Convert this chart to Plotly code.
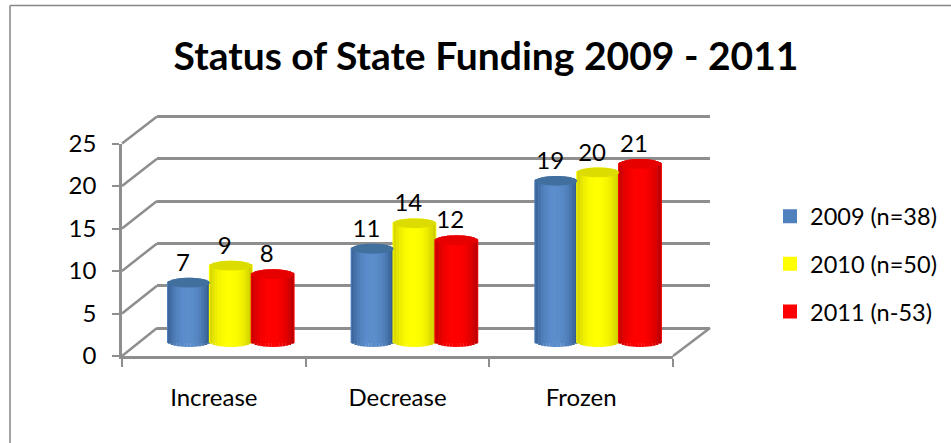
import math
import plotly.graph_objects as go

categories = ["Increase", "Decrease", "Frozen"]
series_names = ["2009 (n=38)", "2010 (n=50)", "2011 (n-53)"]
values_2009 = [7, 11, 19]
values_2010 = [9, 14, 20]
values_2011 = [8, 12, 21]
y_ticks = [0, 5, 10, 15, 20, 25]
title_text = "Status of State Funding 2009 - 2011"

W, H = 951, 443
FONT = "Lato, Carlito, Calibri, sans-serif"
GRID = "#8e8e8e"
series_values = [values_2009, values_2010, values_2011]
legend_colors = ["#4F81BD", "#FFFF00", "#FF0000"]
edge_colors = [(52, 92, 142), (205, 205, 0), (190, 0, 0)]
mid_colors = [(92, 142, 205), (255, 255, 0), (255, 0, 0)]
cap_colors = ["#41709f", "#dcdc00", "#e60000"]


def px(x):
    return x / W


def py(y):
    return 1 - y / H


def mix(a, b, t):
    return "rgb(%d,%d,%d)" % tuple(round(a[i] + (b[i] - a[i]) * t) for i in range(3))


BAR_W = 0.228
GROUP_LEFT = -0.345
E = 0.58  # half-height of an ellipse, y units
N = 15

fig = go.Figure()

# back wall
fig.add_trace(go.Scatter(x=[0], y=[None], xaxis="x", yaxis="y", showlegend=False, hoverinfo="skip"))
# front axes
fig.add_trace(go.Scatter(x=categories, y=[None] * 3, xaxis="x2", yaxis="y2", showlegend=False, hoverinfo="skip"))

shapes = []
for k, (name, vals) in enumerate(zip(series_names, series_values)):
    left = GROUP_LEFT + k * BAR_W
    fig.add_trace(go.Bar(
        x=[0, 1, 2], y=vals, name=name, width=BAR_W, offset=left,
        marker=dict(color=legend_colors[k], line=dict(color=legend_colors[k], width=2)),
        xaxis="x3", yaxis="y3", legendgroup=name, hoverinfo="skip",
    ))
    for i in range(N):
        a = i / N
        b = (i + 1) / N
        t = (a + b) - 1
        dome = math.sqrt(max(0.0, 1 - t * t))
        shade = 1 - abs(t - (-0.05)) ** 2.2
        fig.add_trace(go.Bar(
            x=[0, 1, 2],
            y=[v + 2 * E * dome for v in vals],
            base=[-E * dome] * 3,
            width=BAR_W / N + 0.001, offset=left + a * BAR_W,
            marker=dict(color=mix(edge_colors[k], mid_colors[k], max(0, shade)), line=dict(width=0)),
            xaxis="x3", yaxis="y3", showlegend=False, hoverinfo="skip",
        ))
    for j, v in enumerate(vals):
        shapes.append(dict(
            type="circle", xref="x3", yref="y3", layer="above",
            x0=j + left, x1=j + left + BAR_W, y0=v - E, y1=v + E,
            fillcolor=cap_colors[k], line=dict(width=0),
        ))
    fig.add_trace(go.Scatter(
        x=[j + left + BAR_W / 2 - 0.033 for j in range(3)],
        y=[v + 2.1 for v in vals],
        text=[str(v) for v in vals], mode="text", textposition="middle center",
        textfont=dict(family=FONT, size=24, color="#000"),
        xaxis="x3", yaxis="y3", showlegend=False, hoverinfo="skip", cliponaxis=False,
    ))

# diagonal side wall / floor edges
for t in y_ticks:
    yf = 356 - t * 8.5
    yb = 328 - t * 8.46
    shapes.append(dict(type="line", xref="paper", yref="paper", layer="below",
                       x0=px(122), x1=px(157), y0=py(yf), y1=py(yb),
                       line=dict(color=GRID, width=2.5)))
shapes.append(dict(type="line", xref="paper", yref="paper", layer="below",
                   x0=px(673), x1=px(710), y0=py(356), y1=py(328),
                   line=dict(color=GRID, width=2.5)))
# outer chart border
shapes.append(dict(type="line", xref="paper", yref="paper", x0=px(10), x1=px(10), y0=py(5.5), y1=0,
                   line=dict(color="#868686", width=1.5)))
shapes.append(dict(type="line", xref="paper", yref="paper", x0=px(10), x1=1, y0=py(5.5), y1=py(5.5),
                   line=dict(color="#868686", width=1.5)))

fig.update_layout(
    width=W, height=H, autosize=False,
    margin=dict(l=0, r=0, t=0, b=0, autoexpand=False),
    paper_bgcolor="white", plot_bgcolor="rgba(0,0,0,0)",
    barmode="overlay",
    shapes=shapes,
    font=dict(family=FONT, size=24, color="#000"),
    title=dict(text=title_text, x=px(486), xanchor="center", y=py(56), yanchor="middle",
               font=dict(family=FONT, size=39, color="#000", weight="bold")),
    legend=dict(x=px(770), xanchor="left", y=py(264), yanchor="middle", bgcolor="rgba(0,0,0,0)",
                tracegroupgap=14, font=dict(family=FONT, size=23.5), itemclick=False),
    # back wall grid
    xaxis=dict(domain=[px(157), px(710)], range=[0, 1], visible=False, anchor="y"),
    yaxis=dict(domain=[py(328 + 8.46), py(116.5 - 8.46)], range=[-1, 26], anchor="x", tickvals=y_ticks,
               showgrid=True, gridcolor=GRID, gridwidth=2.5, zeroline=False,
               showline=False, showticklabels=False, ticks=""),
    # front axes
    xaxis2=dict(domain=[px(122), px(673)], anchor="y2", type="category", categoryarray=categories,
                range=[-0.5, 2.5], tickson="boundaries", ticks="outside", ticklen=8, tickcolor=GRID, tickwidth=2,
                showline=True, linecolor=GRID, linewidth=2.5, showgrid=False, zeroline=False,
                ticklabelstandoff=18, tickfont=dict(family=FONT, size=24)),
    yaxis2=dict(domain=[py(356), py(143.5)], anchor="x2", range=[0, 25], tickvals=y_ticks,
                ticks="outside", ticklen=7, tickcolor=GRID, tickwidth=2,
                showline=True, linecolor=GRID, linewidth=2.5, showgrid=False, zeroline=False,
                ticklabelstandoff=11, tickfont=dict(family=FONT, size=24)),
    # bars, at mid depth
    xaxis3=dict(domain=[px(139.5), px(690.5)], anchor="y3", range=[-0.5, 2.5], visible=False),
    yaxis3=dict(domain=[py(342 + 17), py(342 - 27 * 8.48)], anchor="x3", range=[-2, 27], visible=False),
)

fig.write_html("out.html", config=dict(displayModeBar=False),
               post_script="document.body.style.margin='0';document.body.style.overflow='hidden';")
